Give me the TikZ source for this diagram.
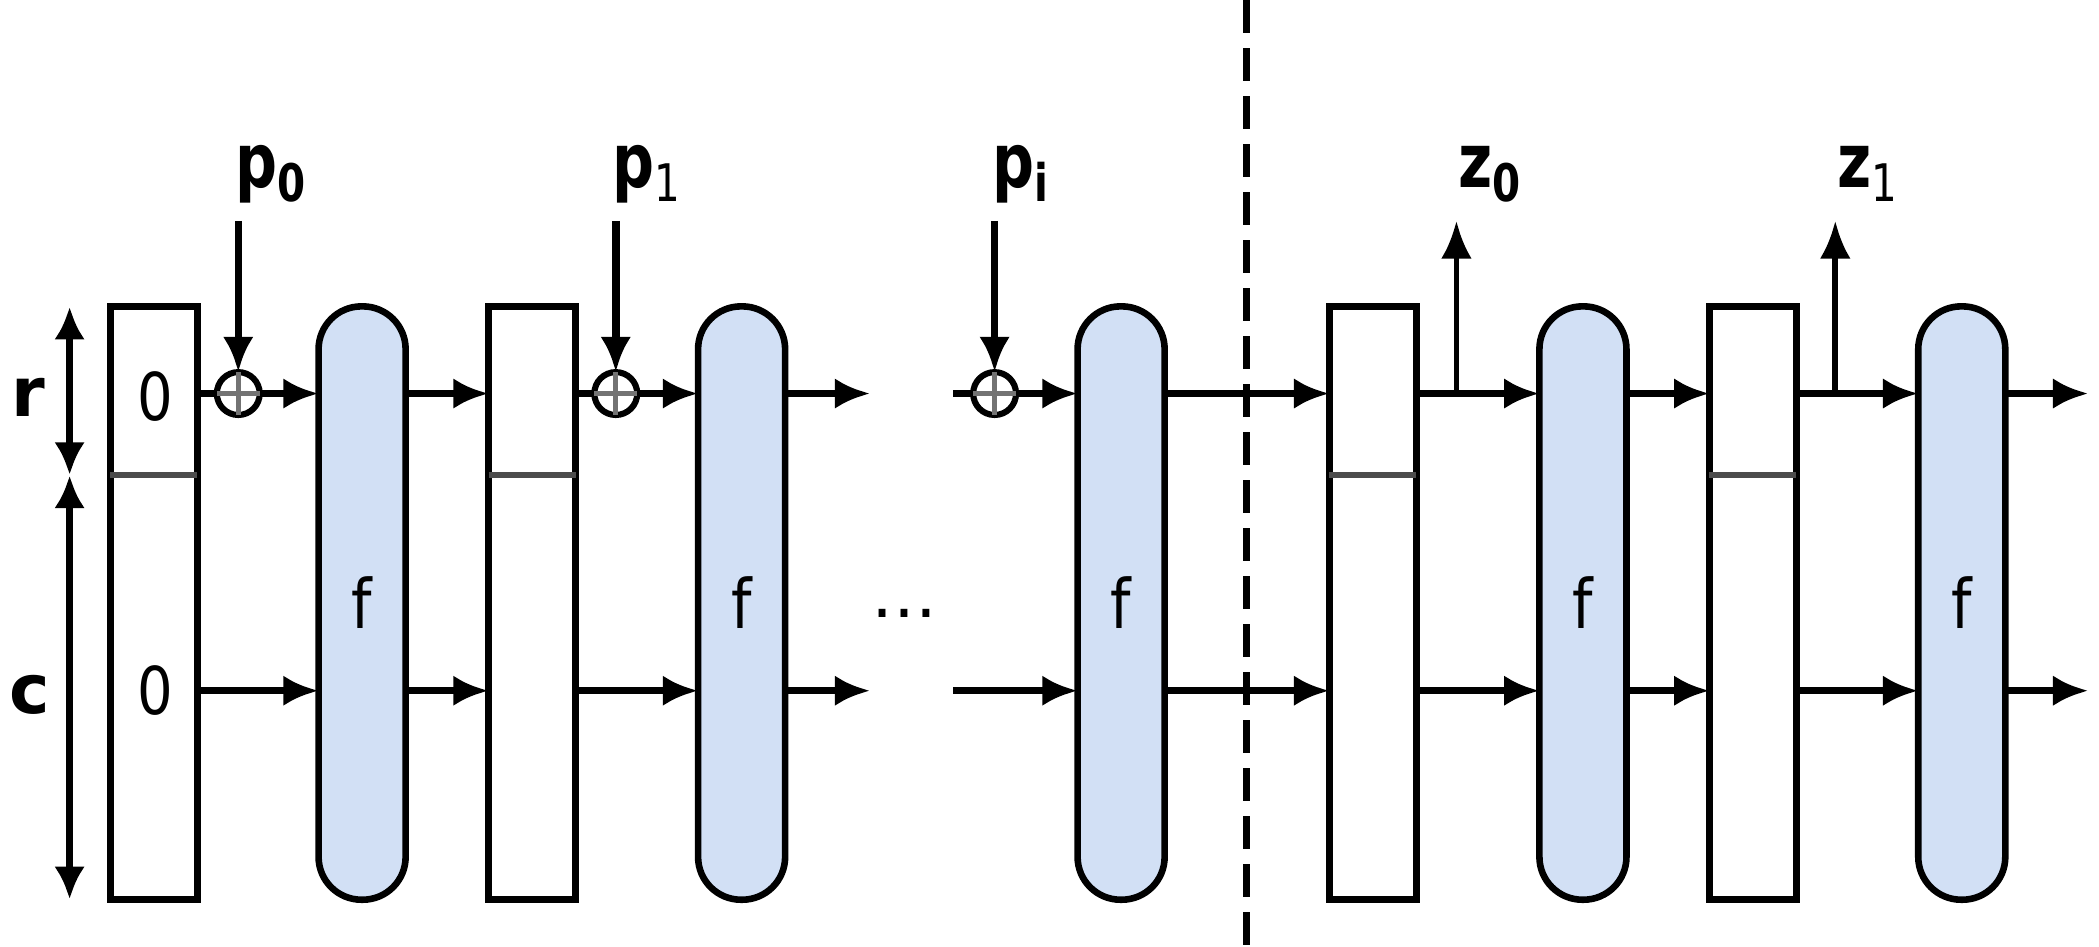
\documentclass[tikz,border=0pt]{standalone}
\usepackage{fontspec}
\setmainfont{DejaVu Sans}
\usetikzlibrary{arrows.meta}
\definecolor{fblue}{RGB}{210,224,245}
\newcommand\sublab[2]{\scalebox{0.78}[1]{\fontsize{16}{16}\selectfont\bfseries #1\raisebox{-3pt}{\fontsize{11}{11}\selectfont #2}}}
\begin{document}
\begin{tikzpicture}[x=0.01cm,y=-0.01cm,
  statebox/.style={draw, line width=1.4pt, fill=white, minimum width=0.65cm, minimum height=4.43cm, inner sep=0pt, outer sep=0pt},
  permbox/.style={draw, line width=1.4pt, fill=fblue, rounded corners=0.32cm, minimum width=0.65cm, minimum height=4.43cm, inner sep=0pt, outer sep=0pt, font=\fontsize{14.5}{14.5}\selectfont},
  divider/.style={line width=1.3pt, draw=black!70},
  xornode/.style={circle, draw, line width=1.3pt, fill=white, minimum size=0.32cm, inner sep=0pt, outer sep=0pt},
  xorcross/.style={line width=1.1pt, draw=black!55},
  flow/.style={line width=1.6pt, -{Latex[length=7.5pt,width=6.5pt]}},
  plainline/.style={line width=1.6pt},
  outarrow/.style={line width=1.2pt, -{Latex[length=8pt,width=6.5pt]}},
  dimarrow/.style={line width=1.6pt, {Latex[length=7pt,width=6.5pt]}-{Latex[length=7pt,width=6.5pt]}},
  dashline/.style={line width=1.6pt, dash pattern=on 7pt off 3.2pt},
  zerolbl/.style={inner sep=0pt, font=\fontsize{14}{14}\selectfont},
  toplbl/.style={inner sep=0pt, anchor=base west},
  dimlbl/.style={inner sep=0pt, font=\fontsize{14.5}{14.5}\selectfont\bfseries}
]
\useasboundingbox (0,0) rectangle (1568,707);

\coordinate (top) at (0,294);
\coordinate (bot) at (0,516);

% state boxes
\foreach \n/\x in {B1/115, B2/397.5, B3/1025.5, B4/1309.5}{
  \node[statebox] (\n) at (\x,450.5) {};
  \draw[divider] ([yshift=-1.26cm]\n.north west) -- ([yshift=-1.26cm]\n.north east);
}
\node[zerolbl] (zr) at (116,296) {\scalebox{0.85}[1]{0}};
\node[zerolbl] (zc) at (116,516) {\scalebox{0.85}[1]{0}};

% permutations
\foreach \n/\x in {F1/270.5, F2/554, F3/837.5, F4/1182.5, F5/1465.5}{
  \node[permbox] (\n) at (\x,450.5) {\scalebox{0.85}[1]{f}};
}

% xor nodes
\foreach \n/\x in {X1/178, X2/460, X3/743}{
  \node[xornode] (\n) at (\x,294) {};
  \draw[xorcross] (\n.north) -- (\n.south) (\n.west) -- (\n.east);
}

% free ends
\coordinate (e1) at (650,294);
\coordinate (e2) at (650,516);
\coordinate (s1) at (712,294);
\coordinate (s2) at (712,516);
\coordinate (e3) at (1560,294);
\coordinate (e4) at (1560,516);

% input arrows
\coordinate (pa0) at (178,165);
\coordinate (pa1) at (460,165);
\coordinate (pa2) at (743,165);
\draw[flow] (pa0) -- (X1.north);
\draw[flow] (pa1) -- (X2.north);
\draw[flow] (pa2) -- (X3.north);

% top row
\draw[plainline] (B1.east |- top) -- (X1.west);
\draw[flow] (X1.east) -- (F1.west |- top);
\draw[flow] (F1.east |- top) -- (B2.west |- top);
\draw[plainline] (B2.east |- top) -- (X2.west);
\draw[flow] (X2.east) -- (F2.west |- top);
\draw[flow] (F2.east |- top) -- (e1);
\draw[plainline] (s1) -- (X3.west);
\draw[flow] (X3.east) -- (F3.west |- top);
\draw[flow] (F3.east |- top) -- (B3.west |- top);
\draw[flow] (B3.east |- top) -- (F4.west |- top);
\draw[flow] (F4.east |- top) -- (B4.west |- top);
\draw[flow] (B4.east |- top) -- (F5.west |- top);
\draw[flow] (F5.east |- top) -- (e3);

% bottom row
\draw[flow] (B1.east |- bot) -- (F1.west |- bot);
\draw[flow] (F1.east |- bot) -- (B2.west |- bot);
\draw[flow] (B2.east |- bot) -- (F2.west |- bot);
\draw[flow] (F2.east |- bot) -- (e2);
\draw[flow] (s2) -- (F3.west |- bot);
\draw[flow] (F3.east |- bot) -- (B3.west |- bot);
\draw[flow] (B3.east |- bot) -- (F4.west |- bot);
\draw[flow] (F4.east |- bot) -- (B4.west |- bot);
\draw[flow] (B4.east |- bot) -- (F5.west |- bot);
\draw[flow] (F5.east |- bot) -- (e4);

% output arrows
\coordinate (j0) at (1088,294);
\coordinate (zt0) at (1088,165);
\coordinate (j1) at (1371,294);
\coordinate (zt1) at (1371,165);
\draw[outarrow] (j0) -- (zt0);
\draw[outarrow] (j1) -- (zt1);

% labels
\node[toplbl] (lp0) at (175,140) {\sublab{p}{0}};
\node[toplbl] (lp1) at (457,140) {\sublab{p}{\mdseries 1}};
\node[toplbl] (lpi) at (741,140) {\sublab{p}{i}};
\node[toplbl] (lz0) at (1089,140) {\sublab{z}{0}};
\node[toplbl] (lz1) at (1372,140) {\sublab{z}{\mdseries 1}};

\node[inner sep=0pt, font=\fontsize{14}{14}\selectfont] (dots) at (676,458) {\dots};

% dimension arrows
\coordinate (rtop) at (52,229);
\coordinate (rmid) at (52,355);
\coordinate (cbot) at (52,672);
\draw[dimarrow] (rtop) -- (rmid);
\draw[dimarrow] (rmid) -- (cbot);
\node[dimlbl] (lr) at (21,297) {r};
\node[dimlbl] (lc) at (22,519) {c};

% separator
\coordinate (d1) at (931,0);
\coordinate (d2) at (931,707);
\draw[dashline] (d1) -- (d2);
\end{tikzpicture}
\end{document}
